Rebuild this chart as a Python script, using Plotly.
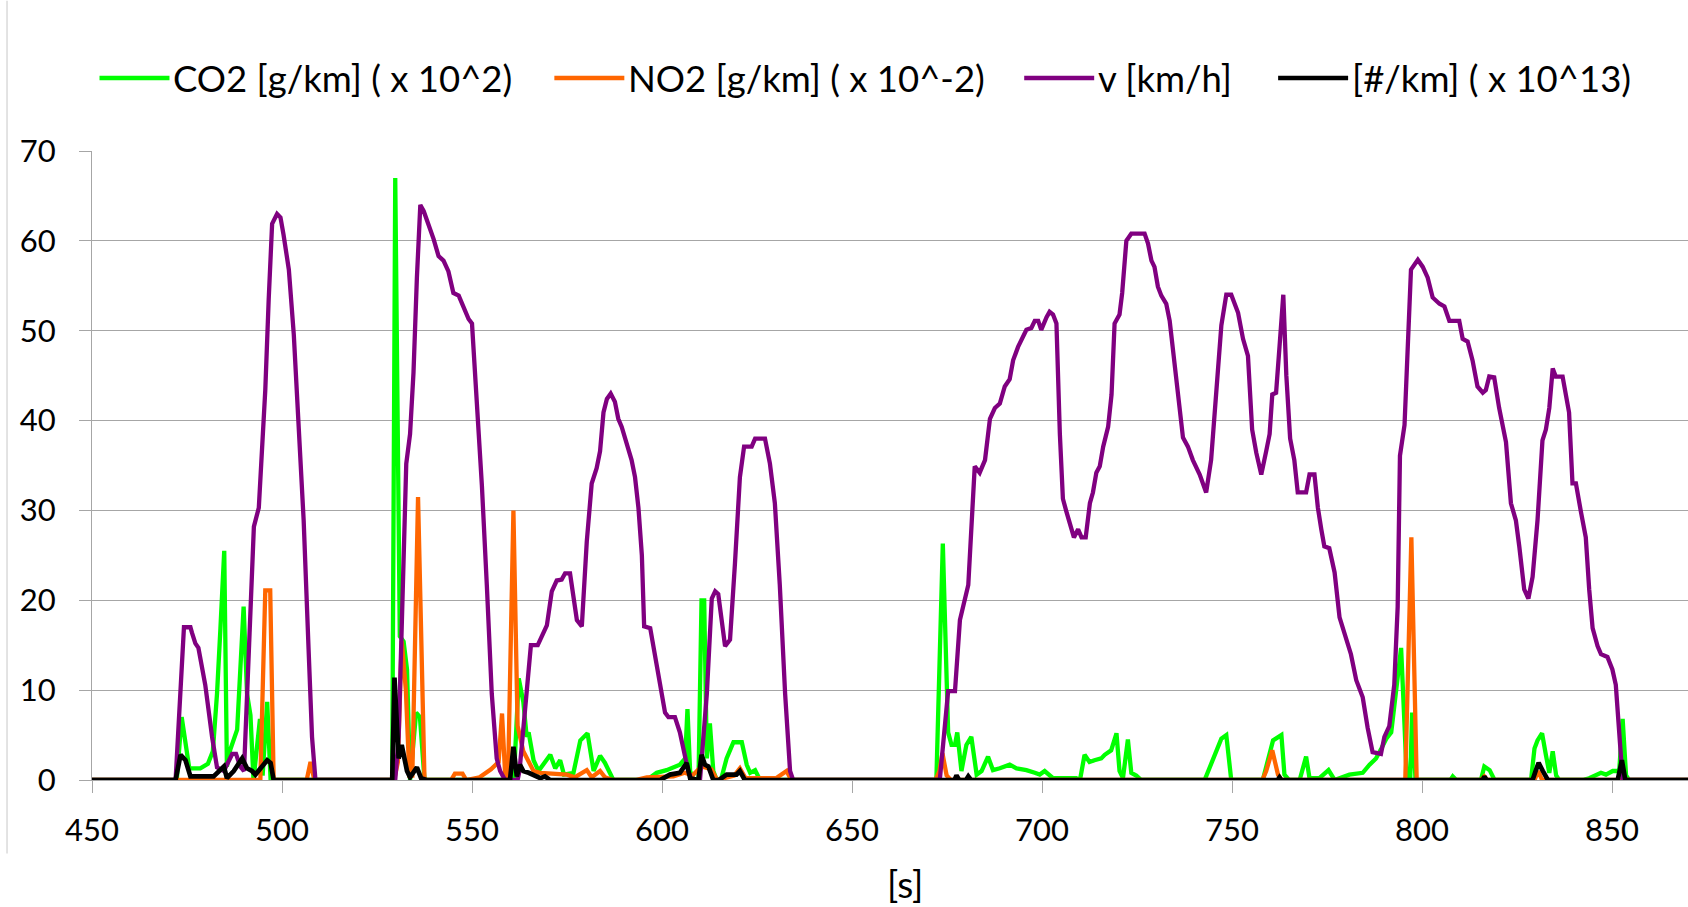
import plotly.graph_objects as go

# ---------------- data ----------------
co2_t = [450, 472.3, 473.6, 475.6, 478.5, 480.5, 481.8, 482.9, 483.8, 484.8, 485.5, 486.4, 488.2, 489, 489.9,
         490.8, 491.7, 492.5, 494.2, 494.9, 496.1, 497, 529, 529.8, 531, 532, 532.9, 533.7, 535.3, 536.3, 537.5,
         558, 559.5, 561, 562.3, 563.5, 564.4, 564.9, 566.2, 567.5, 568.8, 570.6, 571.9, 573.2, 574.2, 576.7,
         578.5, 580.4, 582, 583.7, 585, 586.3, 587.2, 596, 598.6, 601.2, 604.7, 606.1, 606.7, 607.4, 608.3,
         609.6, 610.4, 611.1, 611.8, 612.6, 613.5, 614.4, 615.5, 617, 618.8, 621, 622.3, 623.2, 624.5, 625.8,
         672.2, 673.9, 675.3, 676.2, 677.1, 677.7, 678.8, 680.1, 681.4, 682.8, 684.1, 685.8, 687.1, 688.9,
         691.5, 693.3, 695.9, 698.1, 699.4, 700.7, 702, 702.9, 709, 710, 711.2, 712.5, 713.8, 715.6, 716.5,
         718.2, 719.6, 720.4, 721.3, 722.6, 723.5, 724.8, 726.1, 742.8, 747.2, 748.5, 749.8, 758.1, 760.8, 763,
         763.8, 765, 767.8, 769.5, 770.4, 773, 775.4, 777, 780.9, 784.4, 786.2, 787.9, 789.3, 790.6, 791.9,
         793.2, 794.5, 795.4, 796, 796.9, 797.4, 798.3, 807.5, 808.1, 809, 815.5, 816.4, 817.8, 819.1, 828.7,
         829.6, 830.4, 831.6, 832.6, 833.5, 834.4, 835.3, 836.1, 842.3, 844, 847.1, 848.4, 850.2, 851.9, 852.8,
         853.7, 854.5, 870]
co2_v = [0, 0, 7, 1.3, 1.3, 1.8, 3.2, 9.6, 16.9, 25.5, 1.5, 3.4, 5.6, 12, 19.3,
         9.6, 7.2, 0, 6.8, 0.5, 8.7, 0, 0, 67, 16, 15.4, 12.3, 0, 7.5, 7, 0,
         0, 0.5, 0, 11.3, 8.7, 4.8, 5.3, 2.2, 1, 1.7, 2.8, 1.3, 2.2, 0.6, 0.8,
         4.4, 5.2, 1, 2.7, 1.9, 0.6, 0, 0, 0.8, 1.1, 1.7, 2.4, 7.9, 1, 0,
         0, 20, 20, 2.4, 6.3, 1, 0, 0, 2.4, 4.2, 4.2, 1.7, 0.8, 1.1, 0,
         0, 26.3, 5.3, 3.9, 3.9, 5.3, 1, 3.9, 4.8, 0.6, 1, 2.6, 1.1, 1.3,
         1.7, 1.3, 1.1, 0.8, 0.6, 1, 0.6, 0.2, 0.2, 0, 2.8, 2, 2.2, 2.4, 2.8,
         3.3, 5.2, 1, 0.2, 4.5, 0.8, 0.5, 0, 0, 4.6, 5, 0, 0, 4.4, 5,
         0.6, 0, 0, 2.6, 0.2, 0.2, 1.1, 0, 0.6, 0.8, 1.7, 2.4, 3.5, 4.6, 5.3,
         9.7, 14.7, 6.1, 0, 0, 7.5, 0, 0, 0.4, 0, 0, 1.5, 1.1, 0, 0,
         3.5, 4.4, 5.2, 2.8, 0.8, 3.2, 0.5, 0, 0, 0.2, 0.8, 0.6, 1, 1, 6.8,
         0.5, 0, 0]

no2_t = [450, 494.3, 495.6, 496.9, 497.8, 506.5, 507.5, 508.5, 529.5, 530.5, 531.5, 532.6, 533.5, 534.3,
         535.8, 537.5, 544.5, 545.5, 547.5, 548.5, 552, 555, 557, 557.9, 558.8, 559.5, 560.9, 562, 563.5,
         564.9, 566.2, 568, 575, 577, 580.2, 581.5, 583.7, 585, 587, 593, 596, 603, 606, 608, 610.4, 613,
         614.5, 619, 620.5, 622, 630, 632.8, 634, 672, 673, 673.8, 674.9, 676, 758, 759, 760.6, 762.1, 763,
         795.6, 797.2, 798.6, 815.5, 816.4, 817.2, 829.6, 830.6, 831.6, 870]
no2_v = [0, 0, 21.1, 21.1, 0, 0, 2, 0, 0, 2, 15.5, 10, 0.5, 0.5,
         31.5, 0, 0, 0.7, 0.7, 0, 0.3, 1.2, 2, 7.4, 0, 0.5, 30, 6, 3.2,
         2, 1, 0.8, 0.6, 0.3, 1.1, 0.3, 1, 0.3, 0, 0, 0.3, 0.4, 0.8, 0.5, 1.5, 1.2,
         0, 0.5, 1.3, 0.2, 0.2, 1, 0, 0, 1, 3, 0.5, 0, 0, 1, 3.3, 0.6, 0,
         0, 27, 0, 0, 0.4, 0, 0, 1, 0, 0]

v_t = [450, 472, 474.2, 475.9, 476.3, 477.2, 478, 479.8, 481.6, 482.9, 484.7, 486.9, 487.9, 489, 490,
       490.8, 491.7, 492.6, 493.9, 494.7, 495.6, 496.5, 497.4, 498.7, 499.6, 500.4, 501.8, 503.1, 504.4,
       505.7, 507, 507.9, 508.8, 529.8, 530.7, 532, 532.7, 533.7, 534.6, 535.5, 536.4, 537.3, 538.6, 539.9,
       541.2, 542.5, 543.8, 545.1, 546.5, 547.8, 549.1, 550, 551.3, 552.6, 553.9, 555.2, 556.5, 557.4, 558.7,
       562, 562.5, 564.4, 565.5, 567.3, 568.6, 569.7, 571, 572.3, 573.6, 574.5, 575.8, 576.7, 577.6, 578.9,
       580.2, 581.5, 582.8, 583.7, 584.6, 585.5, 586.5, 587.6, 588.5, 589.4, 590.7, 592, 592.9, 593.8, 594.7,
       595.3, 596.9, 598.2, 599.5, 600.8, 601.7, 603.4, 604.7, 606.1, 606.9, 607.8, 610, 611.8, 613.1, 614,
       614.8, 616.6, 617.9, 619.2, 620.5, 621.6, 623.6, 624.5, 627.1, 628.4, 629.7, 631, 632.4, 633.7, 634.5,
       673.1, 675.3, 677.1, 678.4, 680.6, 681.4, 682.3, 683.6, 685, 686.3, 687.6, 688.9, 690.2, 691.5, 692.4,
       693.7, 695, 695.9, 697.2, 698.1, 699, 699.8, 701.2, 702, 702.9, 703.8, 704.7, 705.5, 706.4, 707.3,
       708.4, 709.5, 710.4, 711.5, 712.6, 713.4, 714.3, 715.2, 716.1, 717.4, 718.3, 719.1, 720.4, 721.1,
       722.2, 723.5, 727, 727.9, 728.8, 729.6, 730.5, 731.4, 732.7, 733.6, 735.3, 737.1, 738.4, 739.7, 741.5,
       743.2, 744.5, 745.9, 747.2, 748.5, 749.8, 751.6, 752.9, 754.2, 755.3, 756.4, 757.7, 759, 759.9, 760.6,
       761.6, 762.5, 763.5, 764.3, 765.3, 766.4, 767.3, 769.5, 770.4, 771.7, 772.6, 773.5, 774.3, 775.6, 777,
       778.3, 779.6, 781.3, 782.7, 784.4, 785.7, 787, 789.2, 790.1, 791.4, 792.7, 793.6, 794.2, 795.4, 796.2,
       797.1, 798.9, 800.2, 801.5, 802.8, 804.6, 805.9, 807.2, 809.8, 810.7, 812, 813.3, 814.6, 816, 816.8,
       817.7, 819, 820.3, 822.1, 823.4, 824.7, 825.6, 826.9, 828, 829.1, 830.4, 831.7, 832.6, 833.5, 834.4,
       835.2, 837, 837.9, 838.7, 839.6, 840.5, 841.8, 843.1, 844, 844.9, 846.2, 847.1, 848.8, 850.1, 851,
       851.9, 852.8, 870]
v_v = [0, 0, 17, 17, 16.4, 15.2, 14.7, 10.6, 4.8, 1.4, 1.0, 2.9, 2.9, 1.5, 1.0,
       9.6, 19.3, 28.2, 30.3, 36.6, 43.4, 53.5, 61.9, 63, 62.6, 60.7, 56.8, 49.6, 39.5,
       28.9, 14.5, 4.8, 0, 0, 4.8, 24.1, 35.2, 38.5, 45.3, 55.9, 64, 63.3, 61.9, 60.2,
       58.3, 57.8, 56.6, 54.2, 53.9, 52.5, 51.3, 50.8, 42.4, 32.8, 21.7, 9.6, 2.4, 1.0, 0,
       0, 1, 9.6, 15, 15, 16.2, 17.2, 21, 22.2, 22.3, 23, 23, 20, 17.8, 17.1,
       26.5, 33, 34.7, 36.6, 40.9, 42.4, 43, 42.1, 40.2, 39.3, 37.3, 35.6, 33.7, 30.3, 25,
       17.1, 16.9, 13.8, 10.6, 7.5, 7, 7, 5.3, 2.6, 1, 0, 0, 9.6, 20.2, 21,
       20.7, 14.9, 15.6, 24.1, 33.7, 37.1, 37.1, 38, 38, 35.2, 30.8, 21.7, 9.6, 1, 0,
       0, 9.9, 9.9, 17.8, 21.7, 28.9, 34.9, 34.2, 35.6, 40.2, 41.4, 41.9, 43.8, 44.6, 46.7,
       48.2, 49.2, 50.1, 50.3, 51.1, 51.1, 50.1, 51.5, 52.1, 51.8, 50.8, 38.5, 31.3, 29.9, 28.7,
       27, 27.9, 27, 27, 30.8, 32, 34.2, 34.9, 37.1, 39.3, 42.9, 50.8, 51.8, 54.2,
       60, 60.8, 60.8, 59.7, 57.8, 57.1, 54.9, 53.9, 53, 51.1, 44.3, 38.1, 37.1, 35.6, 34,
       32, 35.6, 43.4, 50.6, 54, 54, 52, 49.1, 47.2, 39, 36.4, 34, 36.6, 38.5, 42.9,
       43.1, 48.2, 54, 45, 38, 35.6, 32, 32, 34, 34, 30.3, 27.9, 26, 25.8, 23.1,
       18.1, 16.4, 14, 11.1, 9.2, 5.8, 3.1, 2.9, 4.8, 6, 10.6, 19.3, 36.1, 39.5, 48.2,
       56.8, 57.9, 57.1, 55.9, 53.7, 53, 52.7, 51.1, 51.1, 49.1, 48.8, 46.7, 43.8, 43.1, 43.4,
       44.9, 44.8, 41.4, 37.6, 30.8, 28.9, 26, 21.2, 20.2, 22.6, 28.9, 37.8, 39, 41.4, 45.8,
       44.9, 44.9, 42.4, 40.9, 33, 33, 29.9, 27, 21.2, 16.9, 14.9, 14, 13.7, 12.3, 10.6,
       4.8, 0, 0]

pn_t = [450, 472, 473.3, 474.6, 475.9, 482, 484.7, 485.5, 487.3, 489.5, 490.8, 492.1, 493, 494.3, 496.1,
        497, 497.8, 529, 529.6, 530.7, 531.5, 532.9, 533.7, 535.5, 536.6, 538.1, 560, 560.9, 561.8, 562.6,
        563.5, 564.9, 566.2, 568, 569.2, 570.5, 599.5, 602.1, 604.7, 606.5, 607.4, 609.6, 610.4, 611.3,
        612.2, 613.5, 615, 617, 619.6, 620.5, 621.8, 677, 677.5, 678.2, 680, 680.6, 681.3, 762, 762.5, 763,
        816, 816.4, 817, 829.1, 829.9, 830.7, 831.8, 833.1, 851.5, 852.6, 853.5, 870]
pn_v = [0, 0, 2.8, 2.2, 0.4, 0.4, 1.5, 0.2, 1, 2.4, 1.3, 1, 0.6, 1.3, 2.2,
        1.9, 0, 0, 11.4, 2.4, 3.9, 1, 0.3, 1.4, 0.2, 0, 0, 3.7, 0.4, 1.7,
        1, 0.8, 0.6, 0.2, 0.4, 0, 0, 0.6, 0.8, 1.9, 0.2, 0, 2.8, 1.7,
        1.5, 0, 0, 0.6, 0.6, 1, 0, 0, 0.5, 0, 0, 0.4, 0, 0, 0.3, 0,
        0, 0.4, 0, 0, 1, 1.9, 1, 0, 0, 2.2, 0, 0]

series_names = ["CO2 [g/km] ( x 10^2)", "NO2 [g/km] ( x 10^-2)", "v [km/h]", "[#/km] ( x 10^13)"]
series_colors = ["#00FF00", "#FF6600", "#800080", "#000000"]
x_ticks = [450, 500, 550, 600, 650, 700, 750, 800, 850]
y_ticks = [0, 10, 20, 30, 40, 50, 60, 70]

# ---------------- layout constants (pixels) ----------------
W, H = 1688, 907
L, R, T, B = 91.5, 0, 150.5, 126.5
FONT = "Lato"
FS_TICK = 31
FS_LEG = 36.5
FS_TITLE = 37
GRID = "#A6A6A6"
LINE_W = [4.3, 4.3, 4.3, 4.7]


def xp(px):
    return (px - L) / (W - L - R)


def yp(py):
    return (H - B - py) / (H - T - B)


fig = go.Figure()
for (tt, vv), name, col, lw in zip([(co2_t, co2_v), (no2_t, no2_v), (v_t, v_v), (pn_t, pn_v)],
                                   series_names, series_colors, LINE_W):
    fig.add_trace(go.Scatter(x=tt, y=vv, mode="lines", name=name,
                             line=dict(color=col, width=lw), showlegend=False))

# custom legend (long line samples like the reference)
leg_line_start = [99, 554, 1024, 1278]
leg_len = 70
leg_y = 77.5
shapes = []
annotations = []
for x0, name, col in zip(leg_line_start, series_names, series_colors):
    shapes.append(dict(type="line", xref="paper", yref="paper",
                       x0=xp(x0), x1=xp(x0 + leg_len), y0=yp(leg_y), y1=yp(leg_y),
                       line=dict(color=col, width=4.5)))
    annotations.append(dict(xref="paper", yref="paper", x=xp(x0 + leg_len + 2), y=yp(leg_y),
                            xanchor="left", yanchor="middle", showarrow=False, text=name,
                            font=dict(family=FONT, size=FS_LEG, color="#000000")))

# axis title
annotations.append(dict(xref="paper", yref="paper", x=xp(905), y=yp(884), xanchor="center",
                        yanchor="middle", showarrow=False, text="[s]",
                        font=dict(family=FONT, size=FS_TITLE, color="#000000")))
# chart-area left border
shapes.append(dict(type="line", xref="paper", yref="paper", x0=xp(6.5), x1=xp(6.5),
                   y0=yp(0), y1=yp(854), line=dict(color="#D0D0D0", width=1.2)))

fig.update_layout(
    width=W, height=H,
    margin=dict(l=L, r=R, t=T, b=B, pad=0),
    paper_bgcolor="white", plot_bgcolor="white",
    font=dict(family=FONT, size=FS_TICK, color="#000000"),
    shapes=shapes, annotations=annotations,
    xaxis=dict(range=[450, 870], tickvals=x_ticks, ticktext=[str(v) for v in x_ticks],
               showgrid=False, zeroline=False, showline=True, linecolor=GRID, linewidth=1.3,
               ticks="outside", ticklen=12, tickwidth=1.3, tickcolor=GRID,
               ticklabelstandoff=11, tickfont=dict(family=FONT, size=FS_TICK, color="#000000")),
    yaxis=dict(range=[0, 70], tickvals=y_ticks, ticktext=[str(v) for v in y_ticks],
               showgrid=True, gridcolor=GRID, gridwidth=1.3, zeroline=False,
               showline=True, linecolor=GRID, linewidth=1.3,
               ticks="outside", ticklen=12, tickwidth=1.3, tickcolor=GRID,
               ticklabelstandoff=17, tickfont=dict(family=FONT, size=FS_TICK, color="#000000")),
)

fig.write_html("out.html", config={"displayModeBar": False},
               post_script="document.body.style.margin='0';document.body.style.overflow='hidden';")
